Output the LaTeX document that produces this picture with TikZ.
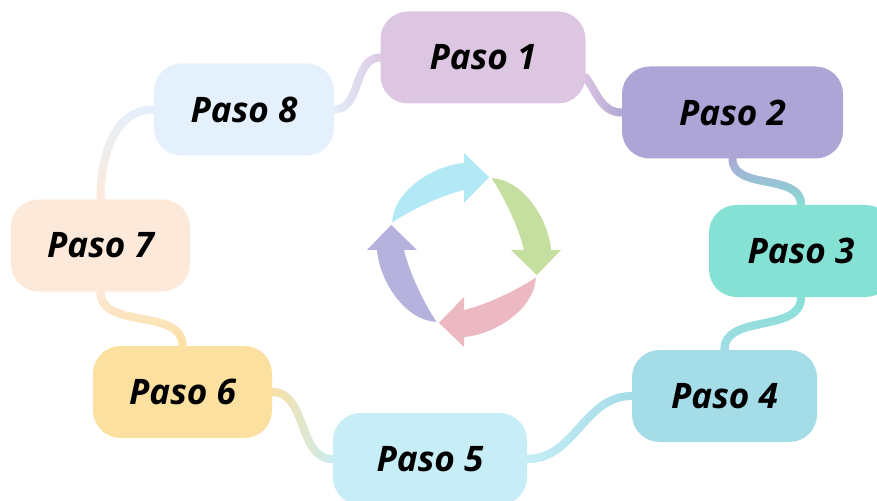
\documentclass[tikz,border=0pt]{standalone}
\usepackage{fontspec}
\setmainfont{Open Sans}
\usepackage{tikz}
\usetikzlibrary{backgrounds,fadings}

\definecolor{lila}{HTML}{DDC6E2}
\definecolor{lavanda}{HTML}{ACA5D5}
\definecolor{turquesa}{HTML}{86E1D5}
\definecolor{celeste}{HTML}{A4DCE8}
\definecolor{cian}{HTML}{C7EEF6}
\definecolor{amarillo}{HTML}{FCE0A0}
\definecolor{melocoton}{HTML}{FDE9DA}
\definecolor{azulclaro}{HTML}{E4F0FC}
\definecolor{flechaazul}{HTML}{B2E9F4}
\definecolor{flechaverde}{HTML}{C4DFA0}
\definecolor{flecharosa}{HTML}{ECB8C2}
\definecolor{flechamorada}{HTML}{B5B2DE}

\begin{document}
\begin{tikzpicture}

	\tikzstyle{paso} = [rectangle,rounded corners=0.55cm,minimum height=1.84cm,font=\fontsize{20}{24}\selectfont\bfseries\itshape]
	\tikzstyle{enlace} = [line width=0.16cm,line cap=round]

	\useasboundingbox (0,0) rectangle (17.54,-10.02);

	\node[paso, fill=lila, minimum width=4.10cm] (p1) at (9.66,-1.15) {Paso 1};
	\node[paso, fill=lavanda, minimum width=4.42cm] (p2) at (14.65,-2.25) {Paso 2};
	\node[paso, fill=turquesa, minimum width=3.68cm] (p3) at (16.02,-5.02) {Paso 3};
	\node[paso, fill=celeste, minimum width=3.70cm] (p4) at (14.49,-7.92) {Paso 4};
	\node[paso, fill=cian, minimum width=3.88cm] (p5) at (8.60,-9.18) {Paso 5};
	\node[paso, fill=amarillo, minimum width=3.58cm] (p6) at (3.65,-7.84) {Paso 6};
	\node[paso, fill=melocoton, minimum width=3.58cm] (p7) at (2.01,-4.91) {Paso 7};
	\node[paso, fill=azulclaro, minimum width=3.60cm] (p8) at (4.88,-2.19) {Paso 8};
	\coordinate (c) at (9.28,-5.0);

	\begin{scope}[on background layer]
		\draw[enlace, azulclaro] (p8.east) to[out=0,in=180] (p1.west);
		\draw[enlace, lila, path fading=west] (p8.east) to[out=0,in=180] (p1.west);
		\draw[enlace, lila] (p1.-11) to[out=-55,in=180] (p2.west);
		\draw[enlace, lavanda, path fading=west] (p1.-11) to[out=-55,in=180] (p2.west);
		\draw[enlace, lavanda] (p2.south) to[out=-90,in=90] (p3.north);
		\draw[enlace, turquesa, path fading=north] (p2.south) to[out=-90,in=90] (p3.north);
		\draw[enlace, turquesa] (p3.south) to[out=-90,in=90] (p4.north);
		\draw[enlace, celeste, path fading=north] (p3.south) to[out=-90,in=90] (p4.north);
		\draw[enlace, celeste] (p4.west) to[out=180,in=0] (p5.east);
		\draw[enlace, cian, path fading=east] (p4.west) to[out=180,in=0] (p5.east);
		\draw[enlace, cian] (p5.west) to[out=180,in=0] (p6.east);
		\draw[enlace, amarillo, path fading=east] (p5.west) to[out=180,in=0] (p6.east);
		\draw[enlace, amarillo] (p6.north) to[out=90,in=-90] (p7.south);
		\draw[enlace, melocoton, path fading=south] (p6.north) to[out=90,in=-90] (p7.south);
		\draw[enlace, melocoton] (p7.north) to[out=90,in=180] (p8.west);
		\draw[enlace, azulclaro, path fading=south] (p7.north) to[out=90,in=180] (p8.west);
	\end{scope}

	% flechas del ciclo
	\fill[flechaazul, shift={(c)}, rotate=0] (159:1.54) .. controls (140:1.84) and (110:1.80) .. (90:1.74) -- (90:1.94) -- (71:1.54) -- (90:0.94) -- (90:1.20) .. controls (112:1.18) and (140:1.30) .. cycle;
	\fill[flechaverde, shift={(c)}, rotate=-90] (159:1.54) .. controls (140:1.84) and (110:1.80) .. (90:1.74) -- (90:1.94) -- (71:1.54) -- (90:0.94) -- (90:1.20) .. controls (112:1.18) and (140:1.30) .. cycle;
	\fill[flecharosa, shift={(c)}, rotate=-180] (159:1.54) .. controls (140:1.84) and (110:1.80) .. (90:1.74) -- (90:1.94) -- (71:1.54) -- (90:0.94) -- (90:1.20) .. controls (112:1.18) and (140:1.30) .. cycle;
	\fill[flechamorada, shift={(c)}, rotate=-270] (159:1.54) .. controls (140:1.84) and (110:1.80) .. (90:1.74) -- (90:1.94) -- (71:1.54) -- (90:0.94) -- (90:1.20) .. controls (112:1.18) and (140:1.30) .. cycle;

\end{tikzpicture}
\end{document}
